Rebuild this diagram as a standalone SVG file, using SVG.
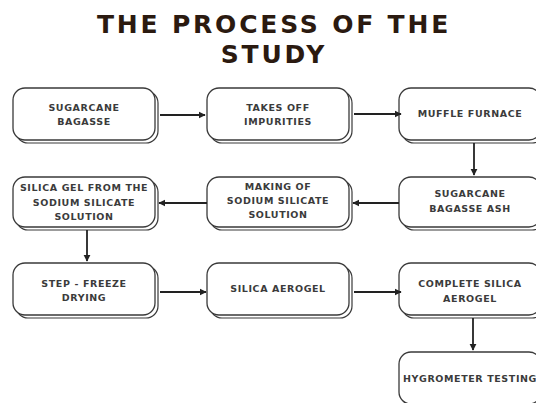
<svg xmlns="http://www.w3.org/2000/svg" width="536" height="403" viewBox="0 0 536 403">
<style>
.sh{fill:#fff;stroke:#3a3a3a;stroke-width:1.2}
.bx{fill:#fff;stroke:#3a3a3a;stroke-width:1.3}
.t{font-family:"DejaVu Sans",sans-serif;font-weight:bold;font-size:9.5px;letter-spacing:0.6px;fill:#3b3b3b;text-anchor:middle}
.ttl{font-family:"DejaVu Sans",sans-serif;font-weight:bold;font-size:25px;letter-spacing:2.8px;fill:#2b1a10;text-anchor:middle}
.c{stroke:#222;stroke-width:1.8;fill:none;marker-end:url(#ah)}
</style>
<defs>
<marker id="ah" viewBox="0 0 10 10" refX="9" refY="5" markerWidth="4" markerHeight="4" orient="auto" markerUnits="strokeWidth">
<path d="M0,0 L10,5 L0,10 z" fill="#222"/>
</marker>
</defs>
<rect width="536" height="403" fill="#fff"/>
<g id="title">
<text class="ttl" x="274" y="33">THE PROCESS OF THE</text>
<text class="ttl" x="274" y="63">STUDY</text>
</g>
<g id="n1"><rect class="sh" x="16" y="91" width="142" height="52" rx="12"/><rect class="bx" x="13" y="88" width="142" height="52" rx="12"/>
<text class="t" x="84" y="111">SUGARCANE</text><text class="t" x="84" y="125">BAGASSE</text></g>
<g id="n2"><rect class="sh" x="210" y="91" width="142" height="52" rx="12"/><rect class="bx" x="207" y="88" width="142" height="52" rx="12"/>
<text class="t" x="278" y="111">TAKES OFF</text><text class="t" x="278" y="125">IMPURITIES</text></g>
<g id="n3"><rect class="sh" x="402" y="91" width="142" height="52" rx="12"/><rect class="bx" x="399" y="88" width="142" height="52" rx="12"/>
<text class="t" x="470" y="117">MUFFLE FURNACE</text></g>
<g id="n4"><rect class="sh" x="402" y="180" width="142" height="50" rx="12"/><rect class="bx" x="399" y="177" width="142" height="50" rx="12"/>
<text class="t" x="470" y="197">SUGARCANE</text><text class="t" x="470" y="212">BAGASSE ASH</text></g>
<g id="n5"><rect class="sh" x="210" y="180" width="142" height="50" rx="12"/><rect class="bx" x="207" y="177" width="142" height="50" rx="12"/>
<text class="t" x="278" y="190">MAKING OF</text><text class="t" x="278" y="204">SODIUM SILICATE</text><text class="t" x="278" y="218">SOLUTION</text></g>
<g id="n6"><rect class="sh" x="16" y="180" width="142" height="50" rx="12"/><rect class="bx" x="13" y="177" width="142" height="50" rx="12"/>
<text class="t" x="84" y="191">SILICA GEL FROM THE</text><text class="t" x="84" y="206">SODIUM SILICATE</text><text class="t" x="84" y="220">SOLUTION</text></g>
<g id="n7"><rect class="sh" x="16" y="266" width="142" height="52" rx="12"/><rect class="bx" x="13" y="263" width="142" height="52" rx="12"/>
<text class="t" x="84" y="287">STEP - FREEZE</text><text class="t" x="84" y="301">DRYING</text></g>
<g id="n8"><rect class="sh" x="210" y="266" width="142" height="52" rx="12"/><rect class="bx" x="207" y="263" width="142" height="52" rx="12"/>
<text class="t" x="278" y="292">SILICA AEROGEL</text></g>
<g id="n9"><rect class="sh" x="402" y="266" width="142" height="52" rx="12"/><rect class="bx" x="399" y="263" width="142" height="52" rx="12"/>
<text class="t" x="470" y="287">COMPLETE SILICA</text><text class="t" x="470" y="302">AEROGEL</text></g>
<g id="n10"><rect class="sh" x="402" y="355" width="142" height="52" rx="12"/><rect class="bx" x="399" y="352" width="142" height="52" rx="12"/>
<text class="t" x="470" y="382">HYGROMETER TESTING</text></g>
<g id="connectors">
<path class="c" d="M160,115 H205"/>
<path class="c" d="M354,114 H401"/>
<path class="c" d="M474,143 V175"/>
<path class="c" d="M399,203 H353"/>
<path class="c" d="M207,203 H159"/>
<path class="c" d="M87,230 V261"/>
<path class="c" d="M160,292 H206"/>
<path class="c" d="M354,292 H401"/>
<path class="c" d="M473,318 V350"/>
</g>
</svg>
